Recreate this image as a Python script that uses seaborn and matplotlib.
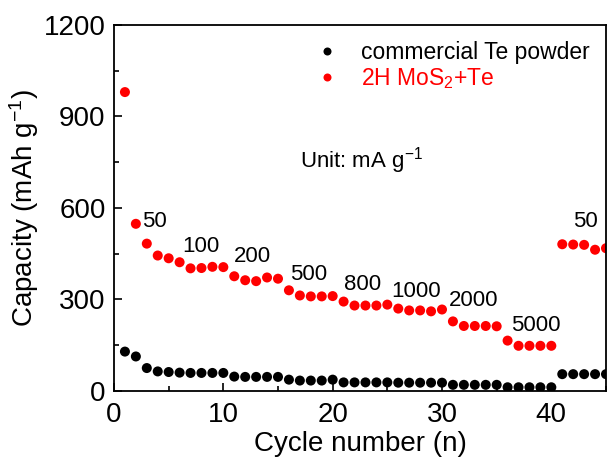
import matplotlib
matplotlib.use("Agg")
import matplotlib.pyplot as plt
import seaborn as sns
import pandas as pd
from matplotlib.ticker import MultipleLocator

cycles = list(range(1, 46))

te_powder = [129, 113, 75, 64, 62, 60, 59, 59, 59, 59,
             47, 46, 46, 46, 46, 37, 34, 34, 34, 37,
             28, 28, 28, 28, 28, 27, 27, 27, 27, 27,
             20, 20, 20, 20, 20, 12, 12, 12, 12, 12,
             55, 55, 55, 55, 55]

mos2_te = [980, 548, 483, 444, 435, 422, 402, 403, 407, 406,
           376, 363, 360, 372, 368, 330, 313, 310, 310, 311,
           293, 280, 280, 280, 283, 270, 264, 264, 261, 267,
           228, 213, 213, 213, 212, 165, 148, 148, 148, 148,
           481, 480, 479, 463, 468]

rate_labels = ["50", "100", "200", "500", "800", "1000", "2000", "5000", "50"]
rate_x = [2.55, 6.2, 11.0, 16.1, 21.0, 25.4, 30.6, 36.3, 42.0]
rate_y = [554, 474, 441, 381, 349, 325, 297, 215, 555]

series_names = ["commercial Te powder", "2H MoS$_2$+Te"]
colors = ["black", "red"]

df = pd.concat([
    pd.DataFrame({"cycle": cycles, "capacity": te_powder, "sample": series_names[0]}),
    pd.DataFrame({"cycle": cycles, "capacity": mos2_te, "sample": series_names[1]}),
])

sns.set_style("ticks")
plt.rcParams["font.family"] = ["Liberation Sans", "DejaVu Sans"]
plt.rcParams["mathtext.default"] = "regular"
plt.rcParams["text.color"] = "black"
plt.rcParams["axes.labelcolor"] = "black"
plt.rcParams["xtick.color"] = "black"
plt.rcParams["ytick.color"] = "black"
plt.rcParams["axes.edgecolor"] = "black"

fig = plt.figure(figsize=(6.08, 4.61), dpi=100)
ax = fig.add_axes([0.1875, 0.152, 0.8092, 0.7938])

sns.scatterplot(data=df, x="cycle", y="capacity", hue="sample",
                palette=dict(zip(series_names, colors)), s=52,
                linewidth=0, ax=ax)

for lab, x, y in zip(rate_labels, rate_x, rate_y):
    ax.text(x, y, lab, fontsize=16, va="center", ha="left")

ax.text(17.0, 756, "Unit: mA g$^{-1}$", fontsize=16, va="center", ha="left")

ax.set_xlim(0, 45)
ax.set_ylim(0, 1200)
ax.xaxis.set_major_locator(MultipleLocator(10))
ax.xaxis.set_minor_locator(MultipleLocator(5))
ax.yaxis.set_major_locator(MultipleLocator(300))
ax.yaxis.set_minor_locator(MultipleLocator(150))
ax.tick_params(which="both", direction="in", top=False, right=False,
               width=1.2, labelsize=20)
ax.tick_params(axis="x", pad=8)
ax.tick_params(axis="y", pad=6)
ax.tick_params(which="major", length=6)
ax.tick_params(which="minor", length=3.5)
for sp in ax.spines.values():
    sp.set_linewidth(1.3)
    sp.set_visible(True)

ax.set_xlabel("Cycle number (n)", fontsize=20, labelpad=2)
ax.set_ylabel("Capacity (mAh g$^{-1}$)", fontsize=20, labelpad=2)

leg = ax.legend(loc="upper right", bbox_to_anchor=(1.0, 1.0), frameon=False,
                fontsize=16.5, labelcolor=colors, handletextpad=0.5,
                borderaxespad=0.3, labelspacing=0.1, markerscale=0.8)

fig.savefig("out.png", dpi=100)
